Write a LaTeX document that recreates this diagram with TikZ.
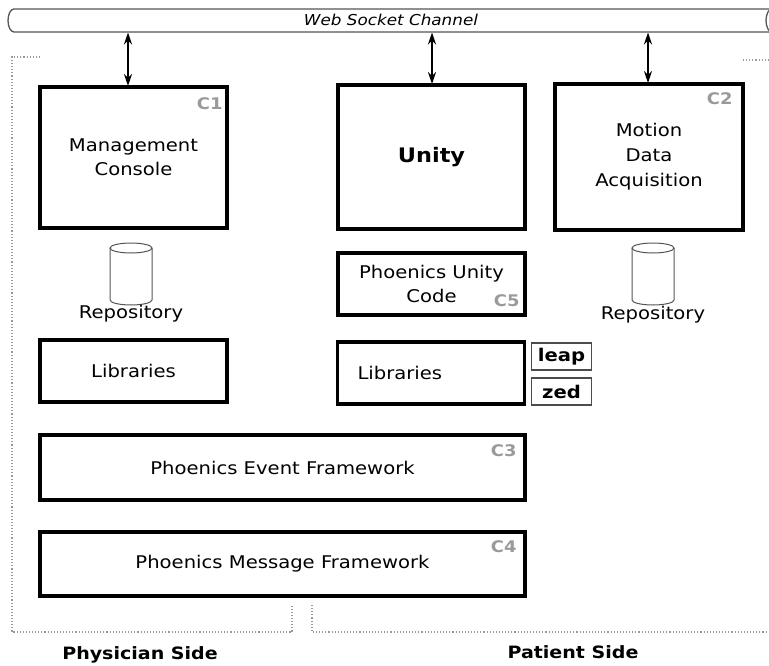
\documentclass[tikz,border=0pt]{standalone}
\usepackage{fontspec}
\setmainfont[FakeStretch=1.12]{DejaVu Sans}
\usetikzlibrary{arrows.meta,calc}
\definecolor{cgray}{HTML}{9A9A9A}
\definecolor{tubegray}{HTML}{555555}
\tikzset{
  bigbox/.style={draw=black, line width=3.5pt, inner sep=0pt, fill=white,
    font=\fontsize{17.5}{24}\selectfont, align=center},
  tagbox/.style={draw=black!70, line width=1.2pt, inner sep=0pt,
    minimum width=60pt, minimum height=27pt, font=\bfseries\fontsize{17.5}{22}\selectfont},
  ctag/.style={text=cgray, font=\bfseries\fontsize{16}{18}\selectfont, inner sep=0pt},
  lbl/.style={font=\fontsize{17.5}{22}\selectfont, inner sep=0pt},
  sidelbl/.style={font=\bfseries\fontsize{17}{20}\selectfont, inner sep=0pt},
  wsarrow/.style={{Stealth[length=12pt,width=8pt]}-{Stealth[length=12pt,width=8pt]}, line width=1.8pt},
  repo/.style={draw=tubegray, line width=1pt, fill=white},
  side/.style={draw=cgray, line width=1.1pt, dotted},
}
\begin{document}
\begin{tikzpicture}[x=1pt,y=-1pt]
\useasboundingbox (0,0) rectangle (769,666);
% web socket tube
\draw[draw=tubegray, line width=1.3pt, fill=white]
  (790,9) -- (14,9) arc[start angle=-90, end angle=-270, x radius=6, y radius=11.5] -- (790,32);
\draw[draw=tubegray, line width=1.3pt] (772,20.5) ellipse[x radius=6, y radius=11.5];
\node[font=\itshape\fontsize{15}{18}\selectfont, inner sep=0pt] (ws) at (391,20) {Web Socket Channel};
\coordinate (wsb) at (391,32.5);

% side frames
\draw[side] (40,57) -- (12,57) -- (12,632) -- (292,632) -- (292,605);
\draw[side] (312,605) -- (312,632) -- (769,632);
\draw[side] (743,60) -- (769,60);

% top boxes
\node[bigbox, minimum width=187pt, minimum height=141pt] (mc) at (133.5,157.5) {Management\\Console};
\node[bigbox, minimum width=187pt, minimum height=144pt, font=\bfseries\fontsize{20}{24}\selectfont] (unity) at (431.5,157) {Unity};
\node[bigbox, minimum width=188pt, minimum height=146pt, font=\fontsize{17.5}{25}\selectfont] (mda) at (649,157) {Motion\\Data\\Acquisition};
\node[ctag] (c1) at ($(mc.north east)+(-19,18)$) {C1};
\node[ctag] (c2) at ($(mda.north east)+(-25,16)$) {C2};

% arrows
\coordinate (a1) at (128,86);
\coordinate (a2) at (432,84);
\coordinate (a3) at (648,83);
\draw[wsarrow] (a1 |- wsb) -- (a1);
\draw[wsarrow] (a2 |- wsb) -- (a2);
\draw[wsarrow] (a3 |- wsb) -- (a3);

% repositories
\draw[repo] (110,248) -- (110,300) arc[start angle=180, end angle=0, x radius=21, y radius=5] -- (152,248);
\draw[repo] (131,248) ellipse[x radius=21, y radius=5];
\node[lbl] (repL) at (131,314) {Repository};
\draw[repo] (632,248) -- (632,300) arc[start angle=180, end angle=0, x radius=21, y radius=5] -- (674,248);
\draw[repo] (653,248) ellipse[x radius=21, y radius=5];
\node[lbl] (repR) at (653,315) {Repository};

% middle boxes
\node[bigbox, minimum width=187pt, minimum height=62pt] (puc) at (431.5,284) {Phoenics Unity\\Code};
\node[ctag] (c5) at ($(puc.south east)+(-20,-16)$) {C5};
\node[bigbox, minimum width=187pt, minimum height=62pt] (libL) at (133.5,371) {Libraries};
\node[bigbox, minimum height=62pt, text width=147pt, inner xsep=20pt, align=left] (libR) at (431,373) {Libraries};
\node[tagbox] (leap) at (561.5,356.5) {leap};
\node[tagbox] (zed) at (561.5,391.5) {zed};

% frameworks
\node[bigbox, minimum width=485pt, minimum height=65pt] (pef) at (282.5,467.5) {Phoenics Event Framework};
\node[ctag] (c3) at ($(pef.north east)+(-23,17)$) {C3};
\node[bigbox, minimum width=485pt, minimum height=64pt] (pmf) at (282.5,564) {Phoenics Message Framework};
\node[ctag] (c4) at ($(pmf.north east)+(-23,16)$) {C4};

% side labels
\node[sidelbl] (phys) at (140,655) {Physician Side};
\node[sidelbl] (pat) at (573,652) {Patient Side};
\end{tikzpicture}
\end{document}
